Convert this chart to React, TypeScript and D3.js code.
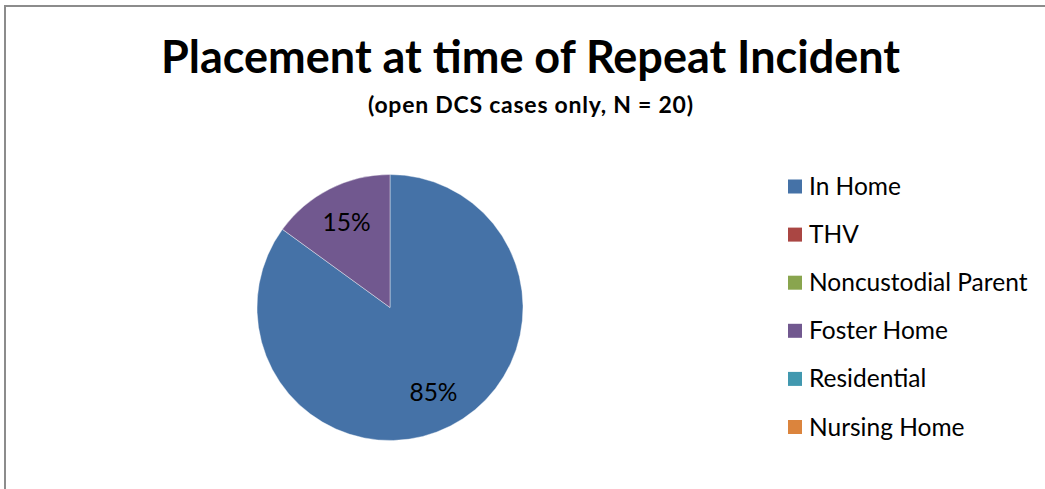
import React from "react";
import * as d3 from "d3";

const categories = ["In Home", "THV", "Noncustodial Parent", "Foster Home", "Residential", "Nursing Home"];
const values = [17, 0, 0, 3, 0, 0];
const colors = ["#4572A7", "#AA4643", "#89A54E", "#71588F", "#4198AF", "#DB843D"];
const title = "Placement at time of Repeat Incident";
const subtitle = "(open DCS cases only, N = 20)";

const W = 1045;
const H = 489;
const FONT = "Lato, 'Open Sans', sans-serif";

export default function App() {
  const cx = 390;
  const cy = 307.5;
  const r = 133;
  const total = d3.sum(values);
  const pie = d3.pie<number>().sort(null).value((d) => d)(values);
  const arc = d3.arc<d3.PieArcDatum<number>>().innerRadius(0).outerRadius(r);
  const labelArc = d3.arc<d3.PieArcDatum<number>>().innerRadius(r * 0.72).outerRadius(r * 0.72);
  const fmt = d3.format(".0%");

  const legendY = d3.scalePoint<string>().domain(categories).range([186.5, 427]);

  return (
    <div style={{ position: "absolute", left: 0, top: 0 }}>
      <svg width={W} height={H} style={{ display: "block", background: "#fff" }}>
        <rect x={5} y={6} width={1200} height={700} fill="#fff" stroke="#8c8c8c" strokeWidth={2} />
        <text x={530.5} y={72.5} textAnchor="middle" fontFamily={FONT} fontWeight="bold" fontSize={45} fill="#000">
          {title}
        </text>
        <text x={530.5} y={113} textAnchor="middle" fontFamily={FONT} fontWeight="bold" fontSize={23}
          textLength={325} lengthAdjust="spacing" fill="#000">
          {subtitle}
        </text>
        <g transform={`translate(${cx},${cy})`}>
          {pie.map((p, i) =>
            p.value > 0 ? (
              <path key={i} d={arc(p) || ""} fill={colors[i]} stroke="#ffffff" strokeOpacity={0.5} strokeWidth={0.8} />
            ) : null
          )}
          {pie.map((p, i) => {
            if (p.value <= 0) return null;
            const [lx, ly] = labelArc.centroid(p);
            return (
              <text key={"l" + i} x={lx} y={ly} dy="0.35em" textAnchor="middle" fontFamily={FONT} fontSize={24.5} fill="#000">
                {fmt(p.value / total)}
              </text>
            );
          })}
        </g>
        <g>
          {categories.map((c, i) => (
            <g key={c} transform={`translate(788,${legendY(c)})`}>
              <rect x={0} y={-7} width={14} height={14} fill={colors[i]} />
              <text x={21} y={0} dy="0.35em" fontFamily={FONT} fontSize={24.5} fill="#000">
                {c}
              </text>
            </g>
          ))}
        </g>
      </svg>
    </div>
  );
}
